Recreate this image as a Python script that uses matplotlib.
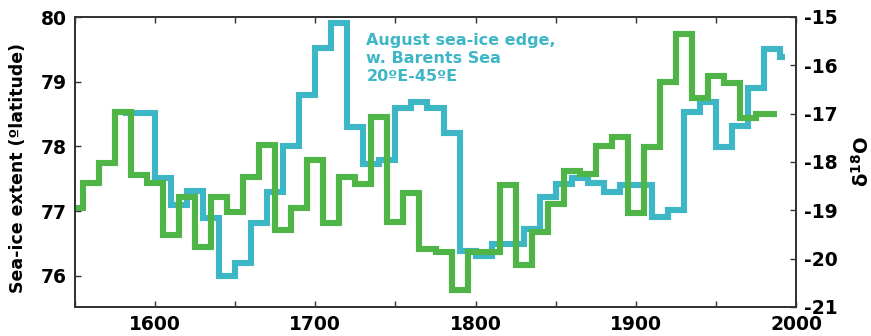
import numpy as np
import matplotlib
matplotlib.use('Agg')
import matplotlib.pyplot as plt

plt.rcParams['font.family'] = 'DejaVu Sans'
plt.rcParams['font.weight'] = 'bold'
plt.rcParams['axes.unicode_minus'] = False

# August sea-ice edge, decadal steps (degrees latitude, left axis)
ice_edges = [1580, 1600, 1610, 1620, 1630, 1640, 1650, 1660, 1670, 1680, 1690,
             1700, 1710, 1720, 1730, 1740, 1750, 1760, 1770, 1780, 1790, 1800,
             1810, 1830, 1840, 1850, 1860, 1870, 1880, 1890, 1910, 1920, 1930,
             1940, 1950, 1960, 1970, 1980, 1990, 1993]
ice_lat = [78.52, 77.51, 77.09, 77.31, 76.89, 76.00, 76.20, 76.82, 77.30, 78.01,
           78.79, 79.52, 79.91, 78.30, 77.73, 77.79, 78.59, 78.69, 78.59, 78.21,
           76.38, 76.31, 76.49, 76.72, 77.22, 77.42, 77.51, 77.43, 77.30, 77.40,
           76.91, 77.02, 78.53, 78.69, 77.99, 78.32, 78.90, 79.51, 79.38]

# d18O decadal steps (per mil, right axis)
d18o_edges = [1545, 1555, 1565, 1575, 1585, 1595, 1605, 1615, 1625, 1635, 1645,
              1655, 1665, 1675, 1685, 1695, 1705, 1715, 1725, 1735, 1745, 1755,
              1765, 1775, 1785, 1795, 1815, 1825, 1835, 1845, 1855, 1865, 1875,
              1885, 1895, 1905, 1915, 1925, 1935, 1945, 1955, 1965, 1975, 1988]
d18o = [-18.95, -18.43, -18.02, -16.97, -18.27, -18.44, -19.51, -18.73, -19.76,
        -18.73, -19.04, -18.31, -17.65, -19.41, -18.95, -17.96, -19.27, -18.31,
        -18.46, -17.07, -19.24, -18.64, -19.80, -19.87, -20.65, -19.87, -18.48,
        -20.13, -19.45, -18.87, -18.19, -18.25, -17.67, -17.48, -19.06, -17.69,
        -16.35, -15.35, -16.68, -16.22, -16.37, -17.09, -17.01]

ice_color = '#3db6c6'
d18o_color = '#4fb547'

fig = plt.figure(figsize=(8.71, 3.36), dpi=100)
ax = fig.add_axes([75/871, 29/336, 721/871, 290/336])
ax2 = ax.twinx()

ax.stairs(ice_lat, ice_edges, baseline=None, color=ice_color, linewidth=4.4,
          joinstyle='miter')
ax2.stairs(d18o, d18o_edges, baseline=None, color=d18o_color, linewidth=4.4,
           joinstyle='miter')

ax.set_xlim(1550, 2000)
ax.set_ylim(75.52, 80)
ax2.set_ylim(-21, -15)

ax.set_xticks(np.arange(1600, 2001, 100))
ax.set_xticks(np.arange(1550, 2001, 50), minor=True)
ax.set_yticks([76, 77, 78, 79, 80])
ax2.set_yticks(np.arange(-21, -14, 1))

for a in (ax, ax2):
    for s in a.spines.values():
        s.set_color('#333333')
        s.set_linewidth(1.3)

ax.tick_params(axis='x', which='both', direction='in', top=True, length=4,
               width=1, color='#333333', labelsize=13.5, pad=6)
ax.tick_params(axis='y', direction='in', length=4, width=1, color='#333333',
               labelsize=13.5, pad=6)
ax2.tick_params(axis='y', direction='in', length=4, width=1, color='#333333',
                labelsize=13.5, pad=6)

ax.set_ylabel('Sea-ice extent (ºlatitude)', fontsize=12.5, fontweight='bold')
ax.yaxis.set_label_coords(-0.066, 0.48)
ax2.set_ylabel(r'δ$^{\mathbf{18}}$O', fontsize=14, fontweight='bold')
ax2.yaxis.set_label_coords(1.076, 0.5)

ax.text(0.404, 0.945, 'August sea-ice edge,\nw. Barents Sea\n20ºE-45ºE',
        transform=ax.transAxes, ha='left', va='top', color=ice_color,
        fontsize=11.5, fontweight='bold', linespacing=1.25)

fig.savefig('out.png', dpi=100, facecolor='white')
